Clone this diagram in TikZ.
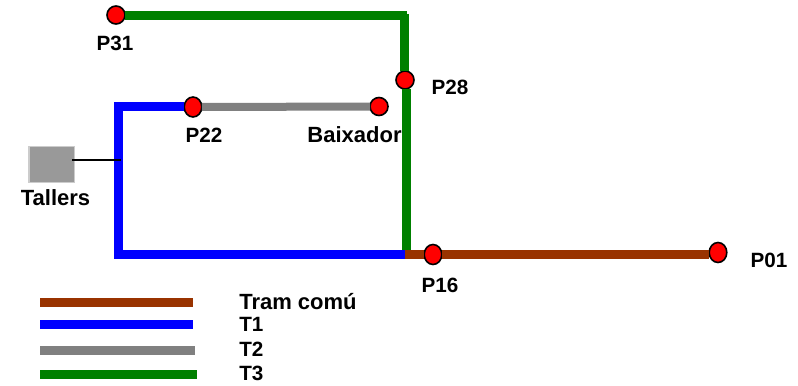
\documentclass[tikz,border=0pt]{standalone}
\usepackage{fontspec}
\setmainfont{Liberation Sans}
\usetikzlibrary{shapes.geometric}
\definecolor{tramcomu}{HTML}{993300}
\definecolor{tramtwo}{HTML}{808080}
\definecolor{tramthree}{HTML}{008000}
\definecolor{tallerfill}{HTML}{999999}
\definecolor{tallerline}{HTML}{CCCCCC}
\tikzset{
  stop/.style={circle,draw=black,fill=red,line width=1.2pt,minimum size=13.5pt,inner sep=0pt,outer sep=0pt},
  stoptall/.style={ellipse,draw=black,fill=red,line width=1.2pt,minimum width=13.2pt,minimum height=15pt,inner sep=0pt,outer sep=0pt},
  lab/.style={font=\bfseries\fontsize{15.5}{15.5}\selectfont,inner sep=0pt},
  wordlab/.style={font=\bfseries\fontsize{16.5}{16.5}\selectfont,inner sep=0pt},
  track/.style={line width=6.75pt}
}
\begin{document}
\begin{tikzpicture}[x=0.75pt,y=-0.75pt]

\useasboundingbox (0,0) rectangle (798,385);

% stops
\node[stop] (p31) at (116,15) {};
\node[stop] (p28) at (405,80) {};
\node[stoptall] (p22) at (193,107) {};
\node[stop] (baixador) at (379,106.5) {};
\node[stoptall] (p16) at (433,254.5) {};
\node[stoptall] (p01) at (718,252.5) {};
\node[draw=tallerline,fill=tallerfill,line width=1pt,minimum width=34pt,minimum height=27pt,inner sep=0pt] (tallers) at (51.5,164.5) {};

% corners
\coordinate (a) at (407,16);
\coordinate (b) at (404.5,14);
\coordinate (c) at (404.5,71);
\coordinate (d) at (406.5,89);
\coordinate (e) at (406.5,259);
\coordinate (f) at (118.5,104);
\coordinate (g) at (118.5,259);
\coordinate (h) at (114,106.5);
\coordinate (i) at (114,254.5);
\coordinate (j) at (405,254.5);
\coordinate (l) at (72,160);
\coordinate (m) at (121,160);

% lines
\draw[track,tramthree] (p31.east |- a) -- (a);
\draw[track,tramthree] (b) -- (c);
\draw[track,tramthree] (d) -- (e);
\draw[track,tramcomu] (j) -- (p16);
\draw[track,tramcomu] (p16) -- (p01.west |- p16);
\draw[track,blue] (h) -- (p22.west |- h);
\draw[track,blue] (f) -- (g);
\draw[track,blue] (i) -- (j);
\draw[track,tramtwo,line width=6pt] (p22) -- (baixador);
\draw[line width=1pt] (l) -- (m);

% labels
\node[lab] (p31lab) at (115,43) {P31};
\node[lab] (p28lab) at (450,87) {P28};
\node[lab] (p22lab) at (204,135) {P22};
\node[wordlab] (baixlab) at (354.5,135) {Baixador};
\node[wordlab] (tallab) at (55.5,198) {Tallers};
\node[lab] (p16lab) at (440,285) {P16};
\node[lab] (p01lab) at (769,260) {P01};

% legend
\coordinate (l1a) at (40,302.5);
\coordinate (l1b) at (193,302.5);
\coordinate (l2a) at (40,324.5);
\coordinate (l2b) at (193,324.5);
\coordinate (l3a) at (40,350.5);
\coordinate (l3b) at (195,350.5);
\coordinate (l4a) at (40,374.5);
\coordinate (l4b) at (197,374.5);
\draw[track,tramcomu] (l1a) -- (l1b);
\draw[track,blue] (l2a) -- (l2b);
\draw[track,tramtwo] (l3a) -- (l3b);
\draw[track,tramthree] (l4a) -- (l4b);
\node[wordlab,anchor=west] (t0) at (239,302) {Tram comú};
\node[lab,anchor=west] (t1) at (239,324) {T1};
\node[lab,anchor=west] (t2) at (239,349) {T2};
\node[lab,anchor=west] (t3) at (239,373) {T3};

\end{tikzpicture}
\end{document}
